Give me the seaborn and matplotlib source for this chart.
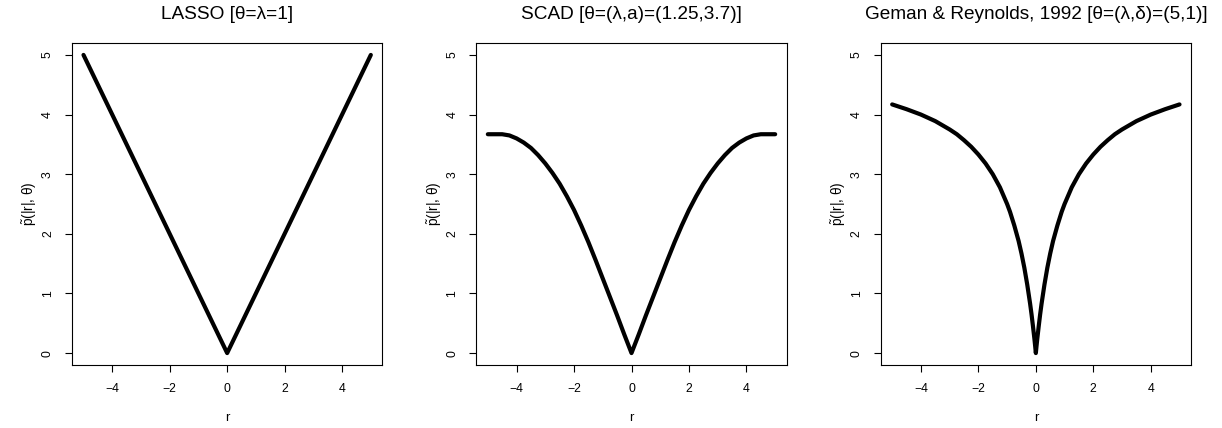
import numpy as np
import pandas as pd
import seaborn as sns
import matplotlib.pyplot as plt

# values
r_lasso = [-5, 0, 5]
p_lasso = [5, 0, 5]

r_scad = [-5, -4.75, -4.5, -4.25, -4, -3.75, -3.5, -3.25, -3, -2.75, -2.5, -2.25, -2, -1.75,
          -1.5, -1.25, -1, -0.75, -0.5, -0.25, 0, 0.25, 0.5, 0.75, 1, 1.25, 1.5, 1.75, 2,
          2.25, 2.5, 2.75, 3, 3.25, 3.5, 3.75, 4, 4.25, 4.5, 4.75, 5]
p_scad = [3.67, 3.67, 3.67, 3.65, 3.60, 3.53, 3.44, 3.32, 3.18, 3.02, 2.84, 2.63, 2.40, 2.14,
          1.86, 1.56, 1.25, 0.94, 0.63, 0.31, 0, 0.31, 0.63, 0.94, 1.25, 1.56, 1.86, 2.14, 2.40,
          2.63, 2.84, 3.02, 3.18, 3.32, 3.44, 3.53, 3.60, 3.65, 3.67, 3.67, 3.67]

r_gr = [-5, -4.5, -4, -3.5, -3, -2.75, -2.5, -2.25, -2, -1.75, -1.5, -1.25, -1, -0.9, -0.75,
        -0.6, -0.5, -0.4, -0.3, -0.2, -0.15, -0.1, -0.05, -0.02, 0, 0.02, 0.05, 0.1, 0.15,
        0.2, 0.3, 0.4, 0.5, 0.6, 0.75, 0.9, 1, 1.25, 1.5, 1.75, 2, 2.25, 2.5, 2.75, 3, 3.5,
        4, 4.5, 5]
p_gr = [4.17, 4.09, 4.00, 3.89, 3.75, 3.67, 3.57, 3.46, 3.33, 3.18, 3.00, 2.78, 2.50, 2.37, 2.14,
        1.88, 1.67, 1.43, 1.15, 0.83, 0.65, 0.45, 0.24, 0.10, 0, 0.10, 0.24, 0.45, 0.65,
        0.83, 1.15, 1.43, 1.67, 1.88, 2.14, 2.37, 2.50, 2.78, 3.00, 3.18, 3.33, 3.46, 3.57, 3.67,
        3.75, 3.89, 4.00, 4.09, 4.17]

titles = ['LASSO [θ=λ=1]',
          'SCAD [θ=(λ,a)=(1.25,3.7)]',
          'Geman & Reynolds, 1992 [θ=(λ,δ)=(5,1)]']
x_ticks = [-4, -2, 0, 2, 4]
y_ticks = [0, 1, 2, 3, 4, 5]

sns.set_style('ticks')
plt.rcParams['font.family'] = ['Liberation Sans', 'DejaVu Sans']
plt.rcParams['mathtext.fontset'] = 'custom'
plt.rcParams['mathtext.rm'] = 'Liberation Sans'
plt.rcParams['mathtext.it'] = 'Liberation Sans:italic'
plt.rcParams['text.color'] = 'black'
plt.rcParams['axes.labelcolor'] = 'black'
plt.rcParams['xtick.color'] = 'black'
plt.rcParams['ytick.color'] = 'black'

fig, axes = plt.subplots(1, 3, figsize=(12.22, 4.28), dpi=100)
fig.subplots_adjust(left=72 / 1222, right=1191 / 1222, bottom=63 / 428, top=385 / 428, wspace=0.303)

curves = [(r_lasso, p_lasso), (r_scad, p_scad), (r_gr, p_gr)]
for ax, (rr, pp), title in zip(axes, curves, titles):
    df = pd.DataFrame({'r': rr, 'p': pp})
    sns.lineplot(data=df, x='r', y='p', ax=ax, color='black', linewidth=3,
                 solid_capstyle='round', solid_joinstyle='round')
    ax.set_xlim(-5.4, 5.4)
    ax.set_ylim(-0.2, 5.2)
    ax.set_xticks(x_ticks)
    ax.set_yticks(y_ticks)
    for lab in ax.get_yticklabels():
        lab.set_rotation(90)
        lab.set_va('center')
    ax.tick_params(axis='both', direction='out', length=5, width=0.8, color='black',
                   labelsize=8.8, pad=8)
    for sp in ax.spines.values():
        sp.set_visible(True)
        sp.set_linewidth(0.8)
        sp.set_color('black')
    ax.set_xlabel('r', fontsize=9.5, labelpad=12.5)
    ax.set_ylabel(r'$\tilde{\mathrm{p}}$(|r|, θ)', fontsize=9.8, labelpad=2)
    ax.set_title(title, fontsize=13.7, pad=17.5)

fig.savefig('out.png', dpi=100)
